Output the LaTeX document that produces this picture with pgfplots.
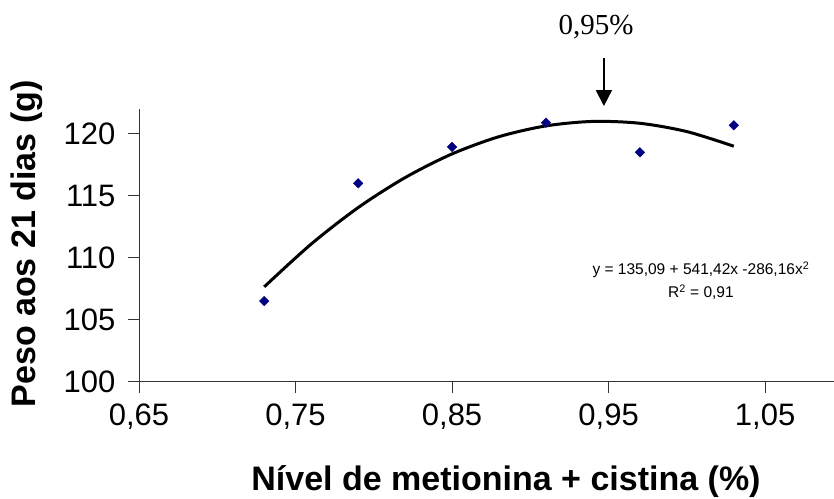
\documentclass[border=0pt]{standalone}
\usepackage{pgfplots}
\pgfplotsset{compat=1.18}
\usepackage{fontspec}
\setmainfont{Liberation Sans}
\newfontfamily\seriffont{Liberation Serif}
\usetikzlibrary{arrows.meta}
\definecolor{ptblue}{RGB}{0,0,128}
\begin{document}
\begin{tikzpicture}
\useasboundingbox (0,0) rectangle (834pt,498pt);
\begin{axis}[
  at={(139pt,116.3pt)}, anchor=south west,
  scale only axis, width=695pt, height=272.8pt,
  xmin=0.65, xmax=1.094, ymin=100, ymax=122,
  axis lines=left, axis line style={-, line width=0.6pt, black!80},
  clip=false,
  tick align=outside, major tick length=11pt,
  tick style={line width=0.6pt, black!80},
  xtick={0.65,0.75,0.85,0.95,1.05},
  xticklabels={{0,65},{0,75},{0,85},{0,95},{1,05}},
  ytick={100,105,110,115,120},
  yticklabels={100,105,110,115,120},
  tick label style={font=\fontsize{31}{36}\selectfont},
  xticklabel style={yshift=-8pt},
  yticklabel style={xshift=-9pt},
  xlabel={Nível de metionina + cistina (\%)},
  ylabel={Peso aos 21 dias (g)},
  label style={font=\fontsize{34}{40}\selectfont\bfseries},
  x label style={at={(axis description cs:0.528,-0.3677)}, anchor=center},
  y label style={at={(axis description cs:-0.161,0.5048)}, anchor=center, rotate=0},
]
\addplot[black, line width=3pt, smooth] coordinates {
  (0.73,107.65) (0.76,111.10) (0.79,114.04) (0.82,116.46) (0.85,118.37)
  (0.88,119.76) (0.91,120.63) (0.94,120.99) (0.97,120.84) (1.00,120.17) (1.03,118.99)
};
\addplot[only marks, mark=square*, mark size=3.4pt, mark options={rotate=45, fill=ptblue, draw=ptblue}] coordinates {
  (0.73,106.5) (0.79,116.0) (0.85,118.93) (0.91,120.89) (0.97,118.5) (1.03,120.68)
};
\draw[line width=2pt, -{Triangle[width=16pt,length=16pt]}] (axis cs:0.947,126.1) -- (axis cs:0.947,122.23);
\node[font=\seriffont\fontsize{29}{34}\selectfont, anchor=center] at (axis cs:0.942,128.6) {0,95\%};
\node[font=\fontsize{15.5}{23}\selectfont, align=center, anchor=center] at (axis cs:1.009,108.12) {y = 135,09 + 541,42x -286,16x\textsuperscript{2}\\R\textsuperscript{2} = 0,91};
\end{axis}
\end{tikzpicture}
\end{document}
